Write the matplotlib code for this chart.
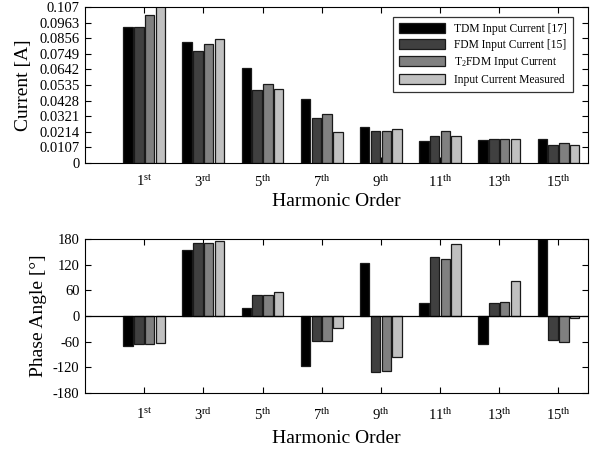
import matplotlib
matplotlib.use("Agg")
import matplotlib.pyplot as plt
import numpy as np

plt.rcParams['font.family'] = ['Liberation Serif', 'DejaVu Serif']
plt.rcParams['mathtext.fontset'] = 'custom'
plt.rcParams['mathtext.rm'] = 'Liberation Serif'
plt.rcParams['mathtext.it'] = 'Liberation Serif:italic'

# ---- data ----
harmonic_numbers = ['1', '3', '5', '7', '9', '11', '13', '15']
harmonic_suffixes = ['st', 'rd', 'th', 'th', 'th', 'th', 'th', 'th']
harmonic_positions = [1, 3, 5, 7, 9, 11, 13, 15]

series_names = ['TDM Input Current [17]', 'FDM Input Current [15]',
                r'T$_2$FDM Input Current', 'Input Current Measured']

current_tdm = [0.0935, 0.0832, 0.0654, 0.0441, 0.0249, 0.0151, 0.0158, 0.0165]
current_fdm = [0.0935, 0.0770, 0.0503, 0.0311, 0.0219, 0.0187, 0.0162, 0.0126]
current_t2fdm = [0.1013, 0.0816, 0.0544, 0.0336, 0.0219, 0.0217, 0.0165, 0.0135]
current_meas = [0.1150, 0.0853, 0.0510, 0.0210, 0.0231, 0.0183, 0.0167, 0.0123]

phase_tdm = [-71.0, 153.5, 17.8, -116.0, 124.0, 29.5, -66.4, 180.0]
phase_fdm = [-65.0, 170.6, 49.0, -57.7, -131.0, 138.0, 31.0, -57.0]
phase_t2fdm = [-65.0, 171.4, 50.0, -57.7, -128.6, 133.0, 33.4, -61.0]
phase_meas = [-62.4, 175.3, 56.0, -27.3, -96.0, 168.3, 82.5, -4.0]

current_ticks = [0, 0.0107, 0.0214, 0.0321, 0.0428, 0.0535, 0.0642,
                 0.0749, 0.0856, 0.0963, 0.107]
current_tick_labels = ['0', '0.0107', '0.0214', '0.0321', '0.0428', '0.0535',
                       '0.0642', '0.0749', '0.0856', '0.0963', '0.107']
phase_ticks = [-180, -120, -60, 0, 60, 120, 180]
phase_tick_labels = ['-180', '-120', '-60', '0', '60', '120', '180']

# ---- style ----
colors = ['#000000', '#404040', '#808080', '#c0c0c0']
edge = '#1a1a1a'
bar_w = 0.32
step = 0.364

W, H = 590, 450
fig = plt.figure(figsize=(W / 100, H / 100), dpi=100)
ax1 = fig.add_axes([85 / W, 1 - 163 / H, 503 / W, 156 / H])
ax2 = fig.add_axes([85 / W, 1 - 393 / H, 503 / W, 154 / H])

xt_labels = [f'{n}$^{{\\mathrm{{{s}}}}}$' for n, s in zip(harmonic_numbers, harmonic_suffixes)]
pos = np.array(harmonic_positions, dtype=float)

for ax, data in ((ax1, [current_tdm, current_fdm, current_t2fdm, current_meas]),
                 (ax2, [phase_tdm, phase_fdm, phase_t2fdm, phase_meas])):
    for i, (vals, c, name) in enumerate(zip(data, colors, series_names)):
        ax.bar(pos + (i - 1.5) * step, vals, width=bar_w, color=c,
               edgecolor=edge, linewidth=0.9, label=name, zorder=2)
    ax.set_xlim(-1, 16)
    ax.set_xticks(harmonic_positions)
    ax.set_xticklabels(xt_labels, fontsize=10.5)
    ax.tick_params(axis='both', direction='in', top=True, right=True,
                   length=4, width=0.8, labelsize=10.5)
    ax.tick_params(axis='y', pad=4)
    for sp in ax.spines.values():
        sp.set_linewidth(0.8)

ax1.tick_params(axis='x', pad=8)
ax2.tick_params(axis='x', pad=10)
ax1.set_xlabel('Harmonic Order', fontsize=14, labelpad=2)
ax2.set_xlabel('Harmonic Order', fontsize=14, labelpad=5)

ax1.set_ylim(0, 0.107)
ax1.set_yticks(current_ticks)
ax1.set_yticklabels(current_tick_labels)
ax1.set_ylabel('Current [A]', fontsize=14, labelpad=5)

ax2.set_ylim(-180, 180)
ax2.set_yticks(phase_ticks)
ax2.set_yticklabels(phase_tick_labels)
ax2.set_ylabel('Phase Angle [°]', fontsize=14, labelpad=4)
ax2.axhline(0, color='k', linewidth=0.9, zorder=3)

leg = ax1.legend(loc='upper right', bbox_to_anchor=(0.970, 0.936),
                 borderaxespad=0, fontsize=8.3, handlelength=4,
                 handleheight=1.0, labelspacing=0.35, fancybox=False,
                 edgecolor='#333333', framealpha=1, handletextpad=0.8,
                 borderpad=0.5)
leg.get_frame().set_linewidth(0.9)

fig.savefig('out.png', dpi=100)
